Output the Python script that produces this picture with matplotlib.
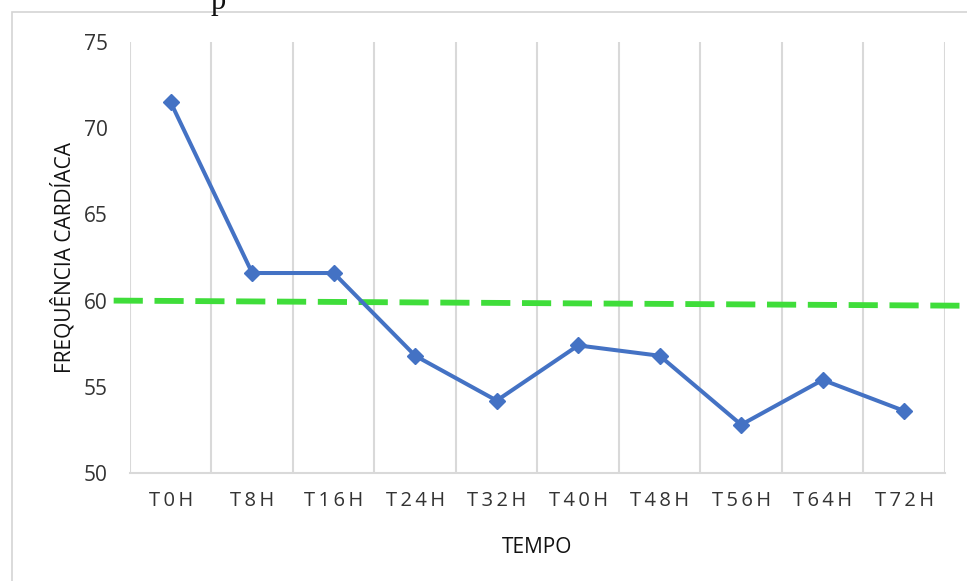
import matplotlib
matplotlib.use('Agg')

import numpy as np
import matplotlib.pyplot as plt
from matplotlib.patches import Rectangle


# DATA
TEMPOS = ["T0H", "T8H", "T16H", "T24H", "T32H", "T40H", "T48H", "T56H", "T64H", "T72H"]
FREQ_CARDIACA = [71.5, 61.6, 61.6, 56.8, 54.2, 57.4, 56.8, 52.8, 55.4, 53.6]

# green reference line (start / end, slightly tilted in the original)
REF_X = [-0.7, 9.85]
REF_Y = [60.0, 59.7]

Y_TICKS = [50, 55, 60, 65, 70, 75]

BLUE  = "#4472C4"
GREEN = "#3FDD3A"
GRID  = "#D9D9D9"

plt.rcParams['font.family'] = ['Open Sans', 'DejaVu Sans']


def spaced(label):
    # the original labels have wide letter tracking
    return "\u2009".join(label)


fig = plt.figure(figsize=(9.67, 5.81), dpi=100)
ax = fig.add_axes([0.1344, 0.1859, 0.9772 - 0.1344, 0.9277 - 0.1859])

# outer chart-area border (runs off the right/bottom of the crop)
fig.patches.append(Rectangle((12 / 967, -0.1), 1.2, 1 - 12 / 581 + 0.1,
                             transform=fig.transFigure, fill=False,
                             edgecolor="#D4D4D4", linewidth=1.2))

# cut-off caption letter at the top
fig.text(211 / 967, 1 - 9 / 581, "p", family="Liberation Serif",
         fontsize=22, ha="left", va="baseline", color="#111111")

x = np.arange(len(TEMPOS))

# vertical gridlines between categories
for b in np.arange(len(TEMPOS) + 1) - 0.5:
    ax.axvline(b, color=GRID, linewidth=1.5, zorder=0)

ax.plot(REF_X, REF_Y, color=GREEN, linewidth=4.2, dashes=(5, 2),
        clip_on=False, zorder=2)

ax.plot(x, FREQ_CARDIACA, color=BLUE, linewidth=2.9, marker="D",
        markersize=8.5, zorder=3)

ax.set_xlim(-0.5, len(TEMPOS) - 0.5)
ax.set_ylim(50, 75)
ax.set_yticks(Y_TICKS)
ax.set_xticks(x)
ax.set_xticklabels([spaced(t) for t in TEMPOS], fontsize=14.5, color="#333333")
ax.tick_params(axis="y", labelsize=15, labelcolor="#333333", length=0, pad=16)
ax.tick_params(axis="x", length=0, pad=13)

for s in ["left", "right", "top"]:
    ax.spines[s].set_visible(False)
ax.spines["bottom"].set_color(GRID)
ax.spines["bottom"].set_linewidth(1.5)

ax.set_ylabel("FREQUÊNCIA CARDÍACA", fontsize=15, color="#111111", labelpad=6)
ax.set_xlabel("TEMPO", fontsize=15, color="#111111", labelpad=19)

plt.savefig("out.png", dpi=100)
plt.close()
